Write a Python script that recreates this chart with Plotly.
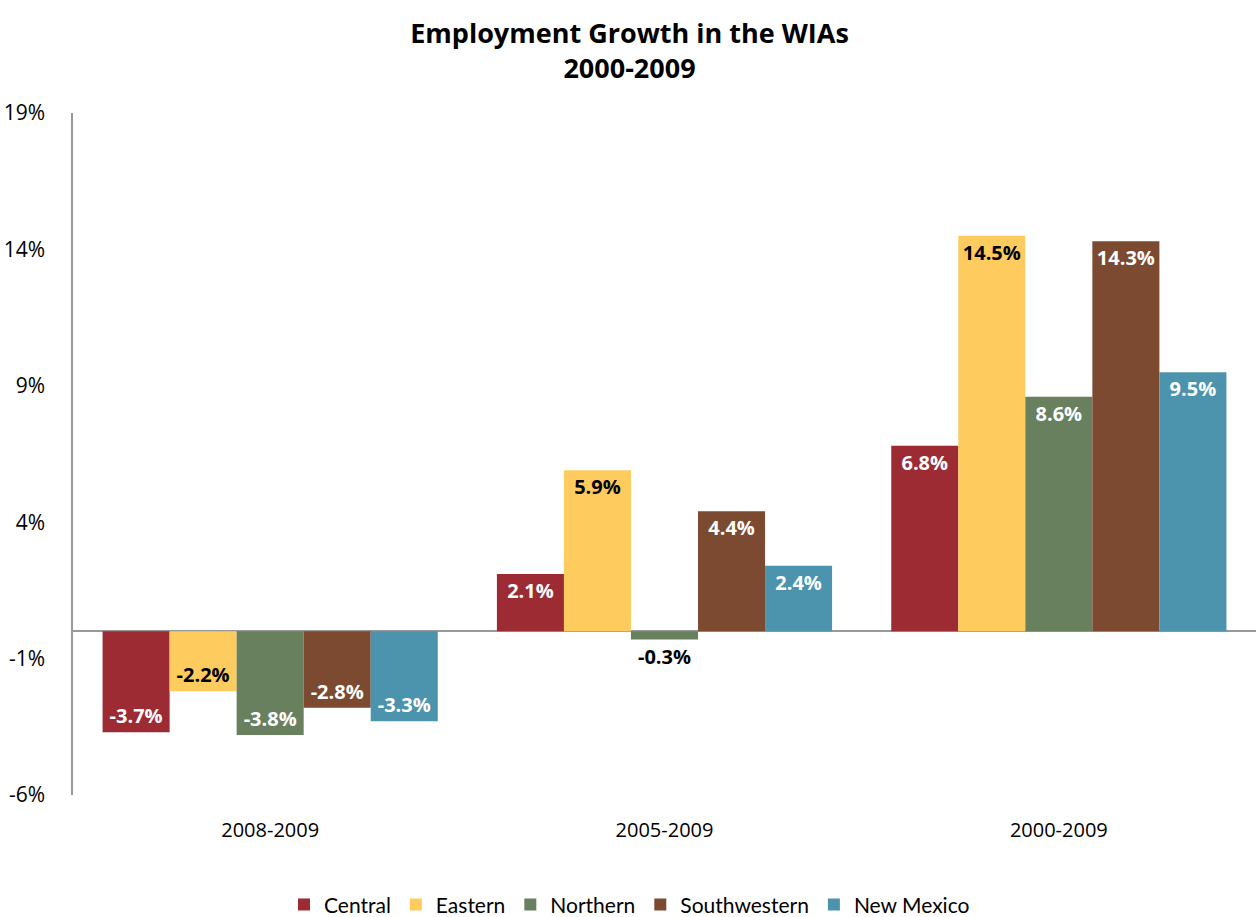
import plotly.graph_objects as go

periods = ["2008-2009", "2005-2009", "2000-2009"]
regions = ["Central", "Eastern", "Northern", "Southwestern", "New Mexico"]
growth = {
    "Central": [-3.7, 2.1, 6.8],
    "Eastern": [-2.2, 5.9, 14.5],
    "Northern": [-3.8, -0.3, 8.6],
    "Southwestern": [-2.8, 4.4, 14.3],
    "New Mexico": [-3.3, 2.4, 9.5],
}
colors = {
    "Central": "#9C2B34",
    "Eastern": "#FECB5E",
    "Northern": "#69805F",
    "Southwestern": "#7B4A31",
    "New Mexico": "#4C93AD",
}
y_ticks = [-6, -1, 4, 9, 14, 19]

fig = go.Figure()
for r in regions:
    vals = growth[r]
    positions = []
    fcolors = []
    for v in vals:
        # very short bars get their label outside
        if abs(v) < 1:
            positions.append("outside")
            fcolors.append("#000000")
        else:
            positions.append("inside")
            fcolors.append("#000000" if r == "Eastern" else "#FFFFFF")
    fig.add_trace(go.Bar(
        name=r,
        x=periods,
        y=vals,
        marker=dict(color=colors[r], line=dict(width=0)),
        text=[f"{v:.1f}%" for v in vals],
        textposition=positions,
        insidetextanchor="end",
        textangle=0,
        constraintext="none",
        textfont=dict(family="Open Sans", size=20, color=fcolors, weight="bold"),
        outsidetextfont=dict(family="Open Sans", size=20, color="#000000", weight="bold"),
        cliponaxis=False,
    ))

fig.update_layout(
    width=1259,
    height=917,
    barmode="group",
    bargap=0.15,
    bargroupgap=0,
    plot_bgcolor="white",
    paper_bgcolor="white",
    margin=dict(l=73, r=3, t=113, b=122, autoexpand=False),
    title=dict(
        text="<b>Employment Growth in the WIAs<br>2000-2009</b>",
        x=0.5, xref="container", xanchor="center",
        y=0.953, yref="container", yanchor="middle",
        font=dict(family="Open Sans", size=27, color="#000000"),
    ),
    font=dict(family="Open Sans", color="#000000"),
    legend=dict(
        orientation="h",
        x=0.4704, xanchor="center",
        y=-0.161, yanchor="middle",
        font=dict(family="Lato", size=21, color="#000000"),
        traceorder="normal",
    ),
    xaxis=dict(
        showline=False,
        showgrid=False,
        ticks="",
        tickfont=dict(family="Open Sans", size=20, color="#000000"),
        ticklabelstandoff=21,
    ),
    yaxis=dict(
        range=[-6, 19],
        tickvals=y_ticks,
        ticktext=[f"{t}%" for t in y_ticks],
        showgrid=False,
        showline=True,
        linecolor="#999999",
        linewidth=1.5,
        ticks="",
        zeroline=True,
        zerolinecolor="#999999",
        zerolinewidth=1.5,
        tickfont=dict(family="Open Sans", size=21, color="#000000"),
        ticklabelstandoff=22,
    ),
)

fig.write_html("out.html")
